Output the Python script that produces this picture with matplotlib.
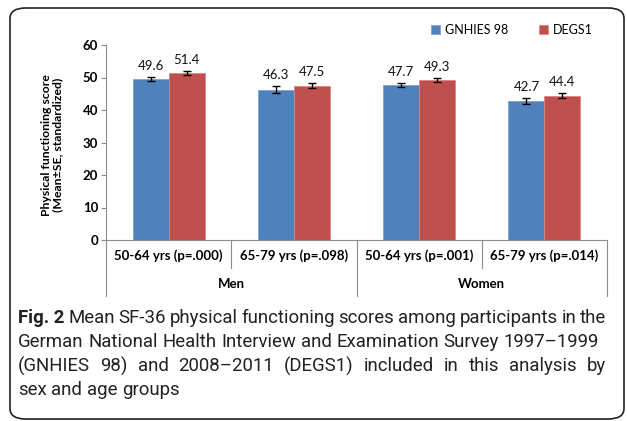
import matplotlib
matplotlib.use("Agg")
import matplotlib.pyplot as plt
from matplotlib.patches import FancyBboxPatch
from matplotlib import font_manager
import numpy as np

categories = ["50-64 yrs (p=.000)", "65-79 yrs (p=.098)", "50-64 yrs (p=.001)", "65-79 yrs (p=.014)"]
groups = ["Men", "Women"]
series_names = ["GNHIES 98", "DEGS1"]
gnhies = [49.6, 46.3, 47.7, 42.7]
degs = [51.4, 47.5, 49.3, 44.4]
gnhies_se = [0.7, 1.2, 0.7, 0.9]
degs_se = [0.5, 0.8, 0.6, 0.8]
yticks = [0, 10, 20, 30, 40, 50, 60]
caption_lines = [
    ("Fig. 2", " Mean SF-36 physical functioning scores among participants in the"),
    ("", "German National Health Interview and Examination Survey 1997\u20131999"),
    ("", "(GNHIES 98) and 2008\u20132011 (DEGS1) included in this analysis by"),
    ("", "sex and age groups"),
]

names = {f.name for f in font_manager.fontManager.ttflist}
chart_font = "Lato" if "Lato" in names else "DejaVu Sans"
cap_font = "Roboto" if "Roboto" in names else "DejaVu Sans"

W, H = 627, 421
fig = plt.figure(figsize=(W / 100, H / 100), dpi=100)

def fx(px):
    return px / W

def fy(py):
    return 1 - py / H

# outer rounded border
border = FancyBboxPatch((fx(10), fy(419)), fx(614), (419 - 8) / H,
                        boxstyle="round,pad=0,rounding_size=0.025",
                        transform=fig.transFigure, fill=False,
                        edgecolor="#222222", linewidth=1.2)
fig.patches.append(border)

ax = fig.add_axes([fx(106), fy(240), (607 - 106) / W, (240 - 45) / H])
blue = "#4F81BD"
red = "#C0504D"
x = np.arange(len(categories))
bw = 0.287
b1 = ax.bar(x - bw / 2, gnhies, bw, color=blue, edgecolor="#7fa3cf", linewidth=0.6,
            yerr=gnhies_se, error_kw=dict(ecolor="black", elinewidth=1, capsize=3, capthick=1),
            label=series_names[0])
b2 = ax.bar(x + bw / 2, degs, bw, color=red, edgecolor="#d88986", linewidth=0.6,
            yerr=degs_se, error_kw=dict(ecolor="black", elinewidth=1, capsize=3, capthick=1),
            label=series_names[1])

for xs, vals, ses in [(x - bw / 2, gnhies, gnhies_se), (x + bw / 2, degs, degs_se)]:
    for xi, v, s in zip(xs, vals, ses):
        ax.annotate(f"{v:.1f}", (xi, v + s), xytext=(0, 3.5), textcoords="offset points",
                    ha="center", va="bottom", fontsize=9.5, family=chart_font, color="#111111")

ax.set_xlim(-0.5, 3.5)
ax.set_ylim(0, 60)
ax.set_yticks(yticks)
ax.set_yticklabels([str(t) for t in yticks], fontweight="bold", fontsize=9.5, family=chart_font)
ax.tick_params(axis="y", length=3.6, width=0.8, color="#8c8c8c", pad=2)
ax.set_xticks([])
for s in ["top", "right"]:
    ax.spines[s].set_visible(False)
for s in ["left", "bottom"]:
    ax.spines[s].set_color("#8c8c8c")
    ax.spines[s].set_linewidth(0.8)

trans = ax.get_xaxis_transform()
for xv, yb in [(-0.5, -0.285), (0.5, -0.145), (1.5, -0.285), (2.5, -0.145), (3.5, -0.285)]:
    ax.plot([xv, xv], [0, yb], transform=trans, color="#8c8c8c", lw=0.8, clip_on=False)
for xi, c in zip(x, categories):
    ax.text(xi, -0.078, c, transform=trans, ha="center", va="center",
            fontsize=9.5, fontweight="bold", family=chart_font)
for gi, g in enumerate(groups):
    ax.text(0.5 + 2 * gi, -0.225, g, transform=trans, ha="center", va="center",
            fontsize=9.5, fontweight="bold", family=chart_font)

fig.text(fx(52), fy(145), "Physical functioning score\n(Mean\u00b1SE, standardized)",
         rotation=90, ha="center", va="center", fontsize=8.8, fontweight="bold",
         family=chart_font, linespacing=1.1)

leg = ax.legend(handles=[b1, b2], labels=series_names, loc="center left",
                bbox_to_anchor=(fx(431), fy(30)), bbox_transform=fig.transFigure,
                ncol=2, frameon=False, handlelength=0.75, handleheight=0.75,
                handletextpad=0.4, columnspacing=2.4, borderpad=0, borderaxespad=0,
                prop=dict(family=chart_font, size=9))

# caption with justification; size fitted so line 2 spans its width in the reference
fig.canvas.draw()
renderer = fig.canvas.get_renderer()
left_px, right_px = 18, 606
line_y = [318, 342, 366, 390]

def text_width(s, size, weight="normal"):
    t = fig.text(0, 0, s, fontsize=size, family=cap_font, fontweight=weight)
    w = t.get_window_extent(renderer).width
    t.remove()
    return w

base = text_width(caption_lines[1][1], 10)
cap_size = 10 * 582 / base

for i, (bold, rest) in enumerate(caption_lines):
    y = fy(line_y[i])
    justify = i in (0, 2)
    tokens = []
    if bold:
        tokens.append((bold, "bold"))
    tokens += [(w, "normal") for w in rest.split()]
    widths = [text_width(t, cap_size, wt) for t, wt in tokens]
    space = text_width("a a", cap_size) - text_width("aa", cap_size)
    if justify and len(tokens) > 1:
        gap = (right_px - left_px - sum(widths)) / (len(tokens) - 1)
    else:
        gap = space
    xpos = left_px
    for (t, wt), w in zip(tokens, widths):
        fig.text(fx(xpos), y, t, fontsize=cap_size, family=cap_font, fontweight=wt,
                 ha="left", va="center", color="#222222")
        xpos += w + gap

fig.savefig("out.png", dpi=100)
